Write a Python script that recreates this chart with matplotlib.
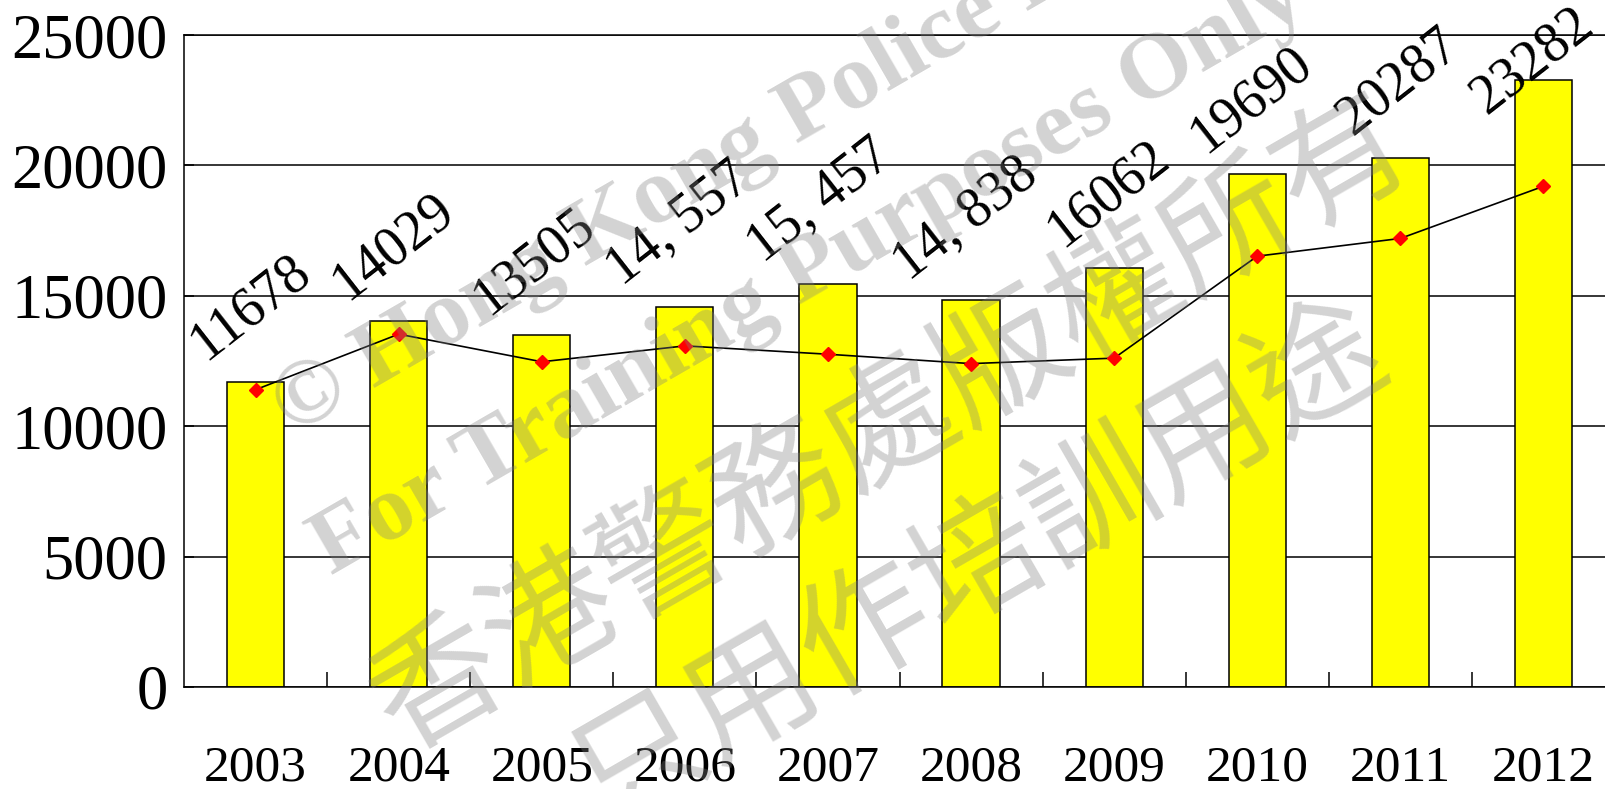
import matplotlib
matplotlib.use('Agg')
import matplotlib.pyplot as plt
import numpy as np

years = ['2003', '2004', '2005', '2006', '2007', '2008', '2009', '2010', '2011', '2012']
bar_vals = [11678, 14029, 13505, 14557, 15457, 14838, 16062, 19690, 20287, 23282]
bar_labels = ['11678', '14029', '13505', '14, 557', '15, 457', '14, 838',
              '16062', '19690', '20287', '23282']
line_vals = [11400, 13530, 12470, 13080, 12760, 12400, 12610, 16520, 17200, 19200]
y_ticks = [0, 5000, 10000, 15000, 20000, 25000]

# where the value labels sit, in pixels from the bar top
lab_dx = [-6, -6, -8, -6, -8, -6, -6, -6, -2, -11]
lab_dy = [75, 74, 73, 83, 83, 81, 74, 74, 76, 19]

serif = 'Liberation Serif'

fig = plt.figure(figsize=(16.06, 7.89), dpi=100)
ax = fig.add_axes([0.1146, 0.1293, 0.8910, 0.8263])

x = np.arange(len(years))
ax.bar(x, bar_vals, width=0.4, color='#ffff00', edgecolor='black', linewidth=1.1, zorder=2)
ax.plot(x, line_vals, color='black', lw=1.2, marker='D', ms=7.5,
        mfc='red', mec='red', zorder=3)

for i, (v, s) in enumerate(zip(bar_vals, bar_labels)):
    ax.annotate(s, xy=(i, v), xytext=(lab_dx[i], lab_dy[i]), textcoords='offset pixels',
                ha='center', va='center', rotation=38, rotation_mode='anchor',
                fontsize=40, family=serif, zorder=4, annotation_clip=False)

ax.set_xlim(-0.5, 9.5)
ax.set_ylim(0, 25000)
ax.set_yticks(y_ticks)
ax.set_yticklabels([str(t) for t in y_ticks], family=serif, fontsize=45)
ax.set_xticks(x)
ax.set_xticklabels(years, family=serif, fontsize=37)
ax.set_xticks(x[:-1] + 0.5, minor=True)
ax.tick_params(axis='x', which='major', length=0, pad=42)
ax.tick_params(axis='x', which='minor', direction='in', length=10.8, width=1.1)
ax.tick_params(axis='y', direction='in', length=7, width=1.1, pad=12)

ax.yaxis.grid(True, color='black', lw=1.1)
ax.set_axisbelow(True)
for sp in ax.spines.values():
    sp.set_linewidth(1.1)
    sp.set_color('black')

# watermark
wm = dict(color='#808080', alpha=0.35, rotation=30, rotation_mode='anchor', zorder=10)
fig.text(0.175, 0.4721, '\u00a9 Hong Kong Police Force', ha='left', va='center',
         family=serif, fontweight='bold', fontsize=68, **wm)
fig.text(0.1990, 0.2950, 'For Training Purposes Only', ha='left', va='center',
         family=serif, fontweight='bold', fontsize=68, **wm)
fig.text(0.5548, 0.4601, '香港警務處版權所有', ha='center', va='center',
         family=['Noto Sans CJK TC', 'DejaVu Sans'], fontsize=94, **wm)
fig.text(0.6105, 0.2833, '只用作培訓用途', ha='center', va='center',
         family=['Noto Sans CJK TC', 'DejaVu Sans'], fontsize=94, **wm)

fig.savefig('out.png', dpi=100)
